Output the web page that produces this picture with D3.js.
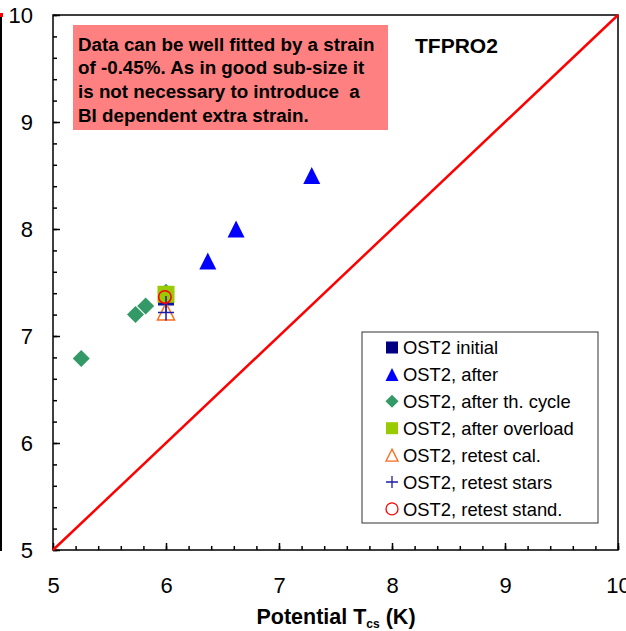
<!DOCTYPE html>
<html>
<head>
<meta charset="utf-8">
<script src="https://cdn.jsdelivr.net/npm/d3@7"></script>
<style>
  html, body { margin: 0; padding: 0; background: #fff; }
  svg { display: block; font-family: "Liberation Sans", Arial, sans-serif; }
</style>
</head>
<body>
<svg id="chart" width="626" height="631"></svg>
<script>
// Critical current data: measured vs. potential Tcs (K)
const majorTicks = [5, 6, 7, 8, 9, 10];
const minorTicks = d3.range(5, 10.001, 0.2).map(v => +v.toFixed(1));

const initialX = [6.0];
const initialY = [7.36];
const afterX = [6.37, 6.62, 7.29];
const afterY = [7.70, 8.00, 8.50];
const thCycleX = [5.25, 5.73, 5.82, 6.0];
const thCycleY = [6.79, 7.20, 7.28, 7.41];
const overloadX = [6.0];
const overloadY = [7.39];
const retestCalX = [6.0];
const retestCalY = [7.23];
const retestStarsX = [6.0, 6.0];
const retestStarsY = [7.30, 7.22];
const retestStandX = [5.99];
const retestStandY = [7.365];
const fitLine = [5, 10];

const seriesNames = [
  "OST2 initial", "OST2, after", "OST2, after th. cycle", "OST2, after overload",
  "OST2, retest cal.", "OST2, retest stars", "OST2, retest stand."
];
const noteLines = [
  "Data can be well fitted by a strain",
  "of -0.45%. As in good sub-size it",
  "is not necessary to introduce  a",
  "BI dependent extra strain."
];
const titleLabel = "TFPRO2";

const svg = d3.select("#chart");
const plotL = 53, plotR = 618, plotT = 15, plotB = 550;
const x = d3.scaleLinear().domain([5, 10]).range([plotL, plotR]);
const y = d3.scaleLinear().domain([5, 10]).range([plotB, plotT]);

// edge of the neighbouring panel
svg.append("line").attr("x1", 1).attr("x2", 1).attr("y1", 16).attr("y2", 551)
  .attr("stroke", "#000").attr("stroke-width", 2);
svg.append("rect").attr("x", 0).attr("y", 13).attr("width", 3).attr("height", 4).attr("fill", "#f00");

// axes (ticks point inward)
const xMinor = svg.append("g").attr("transform", `translate(0,${plotB})`)
  .call(d3.axisBottom(x).tickValues(minorTicks).tickSizeInner(-4).tickSizeOuter(0).tickFormat(""));
const xMajor = svg.append("g").attr("transform", `translate(0,${plotB})`)
  .call(d3.axisBottom(x).tickValues(majorTicks).tickSizeInner(-7).tickSizeOuter(0).tickFormat(d3.format("d")));
const yMinor = svg.append("g").attr("transform", `translate(${plotL},0)`)
  .call(d3.axisLeft(y).tickValues(minorTicks).tickSizeInner(-4).tickSizeOuter(0).tickFormat(""));
const yMajor = svg.append("g").attr("transform", `translate(${plotL},0)`)
  .call(d3.axisLeft(y).tickValues(majorTicks).tickSizeInner(-7).tickSizeOuter(0).tickPadding(20).tickFormat(d3.format("d")));

[xMinor, xMajor, yMinor, yMajor].forEach(g => {
  g.select(".domain").remove();
  g.selectAll(".tick line").attr("stroke", "#000").attr("stroke-width", 1.5);
});
xMajor.selectAll(".tick text").attr("y", 43).attr("dy", 0)
  .attr("font-size", 22).attr("fill", "#000");
yMajor.selectAll(".tick text").attr("dy", "0.36em")
  .attr("font-size", 22).attr("fill", "#000");
[xMajor, yMajor].forEach(g => g.attr("font-family", null).attr("font-size", null));

// plot frame
svg.append("rect").attr("x", plotL).attr("y", plotT)
  .attr("width", plotR - plotL).attr("height", plotB - plotT)
  .attr("fill", "none").attr("stroke", "#000").attr("stroke-width", 1.5);

// 1:1 reference line
svg.append("line")
  .attr("x1", x(fitLine[0])).attr("y1", y(fitLine[0]))
  .attr("x2", x(fitLine[1])).attr("y2", y(fitLine[1]))
  .attr("stroke", "#ff0000").attr("stroke-width", 2.5);

// marker shapes
function drawMarker(g, kind, cx, cy, s) {
  const h = s / 2;
  switch (kind) {
    case "square":
      return g.append("rect").attr("x", cx - h).attr("y", cy - h).attr("width", s).attr("height", s);
    case "triangle":
      return g.append("path").attr("d", `M${cx},${cy - h}L${cx + h},${cy + h}L${cx - h},${cy + h}Z`);
    case "diamond":
      return g.append("path").attr("d", `M${cx},${cy - h}L${cx + h},${cy}L${cx},${cy + h}L${cx - h},${cy}Z`);
    case "plus":
      return g.append("path").attr("d", `M${cx - h},${cy}H${cx + h}M${cx},${cy - h}V${cy + h}`);
    case "circle":
      return g.append("circle").attr("cx", cx).attr("cy", cy).attr("r", h);
  }
}

const series = [
  { xs: initialX, ys: initialY, kind: "square", fill: "#000080", stroke: "none", size: 16, lsize: 12 },
  { xs: afterX, ys: afterY, kind: "triangle", fill: "#0000ff", stroke: "none", size: 17, lsize: 13 },
  { xs: thCycleX, ys: thCycleY, kind: "diamond", fill: "#339966", stroke: "none", size: 17, lsize: 13 },
  { xs: overloadX, ys: overloadY, kind: "square", fill: "#99cc00", stroke: "none", size: 17, lsize: 12 },
  { xs: retestCalX, ys: retestCalY, kind: "triangle", fill: "none", stroke: "#ff6a1a", size: 17, lsize: 12, sw: 1.5 },
  { xs: retestStarsX, ys: retestStarsY, kind: "plus", fill: "none", stroke: "#1c1ca8", size: 16, lsize: 12, sw: 1.5 },
  { xs: retestStandX, ys: retestStandY, kind: "circle", fill: "none", stroke: "#ff0000", size: 12.5, lsize: 12, sw: 1.6 }
];

const marks = svg.append("g");
series.forEach(s => {
  s.xs.forEach((xv, i) => {
    drawMarker(marks, s.kind, x(xv), y(s.ys[i]), s.size)
      .attr("fill", s.fill).attr("stroke", s.stroke).attr("stroke-width", s.sw || 0);
  });
});

// annotation box
svg.append("rect").attr("x", 73).attr("y", 25).attr("width", 315).attr("height", 105)
  .attr("fill", "#ff8080");
svg.append("g").selectAll("text").data(noteLines).join("text")
  .attr("x", 78).attr("y", (d, i) => 50.5 + i * 23.7)
  .attr("font-size", 18.8).attr("font-weight", "bold").attr("fill", "#000")
  .style("white-space", "pre")
  .text(d => d);

svg.append("text").attr("x", 415).attr("y", 52.5)
  .attr("font-size", 21).attr("font-weight", "bold").attr("fill", "#000")
  .text(titleLabel);

// legend
const legend = svg.append("g");
legend.append("rect").attr("x", 362).attr("y", 332).attr("width", 236).attr("height", 191)
  .attr("fill", "#fff").attr("stroke", "#333").attr("stroke-width", 1);
series.forEach((s, i) => {
  const cy = 347.5 + i * 26.9;
  drawMarker(legend, s.kind, 392, cy, s.lsize)
    .attr("fill", s.fill).attr("stroke", s.stroke).attr("stroke-width", s.sw ? 1.3 : 0);
  legend.append("text").attr("x", 403).attr("y", cy).attr("dy", "0.36em")
    .attr("font-size", 18.4).attr("fill", "#000").text(seriesNames[i]);
});

// x-axis title
const xt = svg.append("text").attr("x", 336).attr("y", 624)
  .attr("text-anchor", "middle").attr("font-size", 21.5).attr("font-weight", "bold").attr("fill", "#000");
xt.append("tspan").text("Potential T");
xt.append("tspan").attr("font-size", 12).attr("dy", 4).text("cs");
xt.append("tspan").attr("dy", -4).text(" (K)");
</script>
</body>
</html>
